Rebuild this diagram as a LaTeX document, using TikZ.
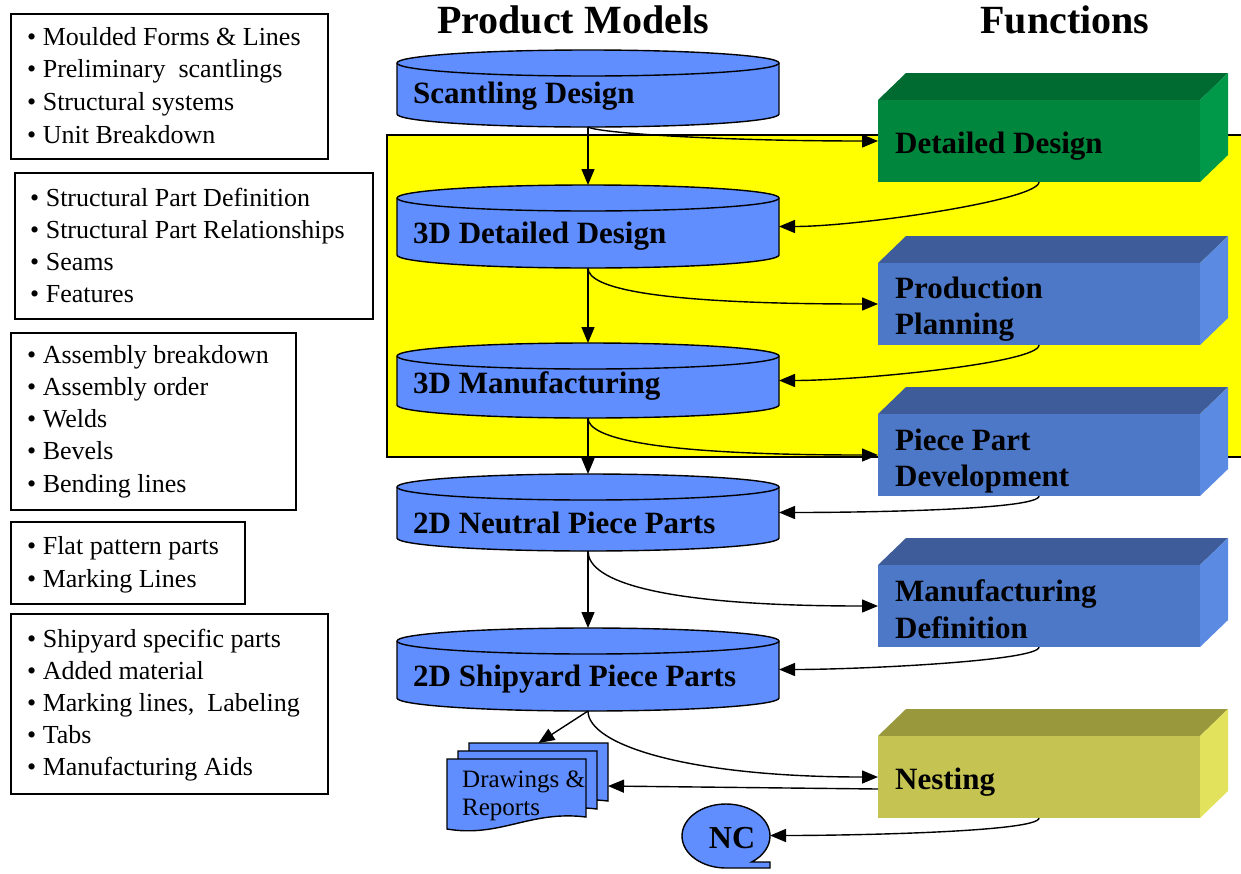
\documentclass[tikz,border=0pt]{standalone}
\usepackage{fontspec}
\setmainfont{Liberation Serif}
\usetikzlibrary{arrows.meta,calc}
\definecolor{cylblue}{RGB}{96,142,255}
\definecolor{ddfront}{RGB}{0,135,61}
\definecolor{ddtop}{RGB}{0,107,48}
\definecolor{ddside}{RGB}{0,153,74}
\definecolor{bbfront}{RGB}{77,120,200}
\definecolor{bbtop}{RGB}{61,92,153}
\definecolor{bbside}{RGB}{91,138,226}
\definecolor{nsfront}{RGB}{197,196,83}
\definecolor{nstop}{RGB}{153,152,61}
\definecolor{nsside}{RGB}{226,226,92}
\definecolor{hiyellow}{RGB}{255,255,0}
\tikzset{
  conn/.style={line width=1.4pt, -{Triangle[length=16pt,width=13pt]}},
  cylshape/.style={fill=cylblue, draw=black, line width=1.4pt},
  cylnode/.style={minimum width=382, inner sep=0, outer sep=0},
  cyllabel/.style={font=\fontsize{31}{36}\selectfont\bfseries, inner sep=0, anchor=base west},
  lbox/.style={draw=black, line width=1.3pt, anchor=north west, inner sep=0, outer sep=0},
  ltext/.style={font=\fontsize{26}{32}\selectfont, inner sep=0, anchor=base west},
  dtext/.style={font=\fontsize{25}{30}\selectfont, inner sep=0, anchor=base west},
  docstyle/.style={fill=cylblue, draw=black, line width=1.4pt},
  titletext/.style={font=\fontsize{40}{48}\selectfont\bfseries, inner sep=0, anchor=base},
  frontface/.style={minimum width=322, minimum height=82, anchor=north west, inner sep=0, outer sep=0},
  hidden/.style={inner sep=0, outer sep=0}
}
\newcommand\mycyl[5]{%
  \draw[cylshape] (397,#2+13) -- (397,#3-13) arc[start angle=180,end angle=0,x radius=191,y radius=13] -- (779,#2+13) arc[start angle=0,end angle=-180,x radius=191,y radius=13] -- cycle;
  \draw[line width=1.4pt] (397,#2+13) arc[start angle=180,end angle=0,x radius=191,y radius=13];
  \node[cylnode, minimum height=#3-#2] (#1) at (588,{(#2+#3)/2}) {};
  \node[cyllabel] (#1-t) at (413,#4) {#5};
}
\newcommand\funcbox[5]{%
  \fill[#4] (878,#2) -- (906,#2-27) -- (1228,#2-27) -- (1200,#2) -- cycle;
  \fill[#5] (1200,#2) -- (1228,#2-27) -- (1228,#2+55) -- (1200,#2+82) -- cycle;
  \node[frontface, fill=#3] (#1) at (878,#2) {};
}
\newcommand\docpage[2]{%
  \filldraw[docstyle] (#1,#2) -- (#1+139,#2) -- (#1+139,#2+58) .. controls (#1+83,#2+51) and (#1+53,#2+79) .. (#1,#2+70) -- cycle;
}
\begin{document}
\begin{tikzpicture}[x=1pt,y=-1pt]
\useasboundingbox (0,0) rectangle (1241,873);
% highlight area (runs past the right edge)
\begin{scope}
\clip (0,0) rectangle (1241,873);
\filldraw[fill=hiyellow, draw=black, line width=1.3pt] (387,135) rectangle (1250,457);
\end{scope}
% product model cylinders
\mycyl{c1}{50}{127}{103}{Scantling Design}
\mycyl{c2}{185}{268}{243}{3D Detailed Design}
\mycyl{c3}{343}{418}{393}{3D Manufacturing}
\mycyl{c4}{474}{551}{533}{2D Neutral Piece Parts}
\mycyl{c5}{628}{711}{686}{2D Shipyard Piece Parts}
% function boxes
\funcbox{dd}{100}{ddfront}{ddtop}{ddside}
\funcbox{pp}{263}{bbfront}{bbtop}{bbside}
\funcbox{ppd}{414}{bbfront}{bbtop}{bbside}
\funcbox{md}{565}{bbfront}{bbtop}{bbside}
\funcbox{ns}{736}{nsfront}{nstop}{nsside}
\node[cyllabel] (dd-t) at (895,153) {Detailed Design};
\node[cyllabel] (pp-t1) at (895,298) {Production};
\node[cyllabel] (pp-t2) at (895,334) {Planning};
\node[cyllabel] (ppd-t1) at (895,450) {Piece Part};
\node[cyllabel] (ppd-t2) at (895,486) {Development};
\node[cyllabel] (md-t1) at (895,601) {Manufacturing};
\node[cyllabel] (md-t2) at (895,638) {Definition};
\node[cyllabel] (ns-t) at (895,789) {Nesting};
% drawings & reports stack
\docpage{469}{743}
\docpage{458}{751}
\docpage{447}{759}
\node[hidden, minimum width=139, minimum height=60, anchor=north west] (drb) at (469,743) {};
\node[hidden, minimum width=161, minimum height=86, anchor=north west] (dr) at (447,743) {};
\node[dtext] (dr-t1) at (462,787) {Drawings \&};
\node[dtext] (dr-t2) at (462,815) {Reports};
% NC
\filldraw[docstyle] (726,868) arc[start angle=90,end angle=414.3,x radius=44,y radius=32] -- (770,862) -- (770,868) -- cycle;
\node[hidden, minimum width=88, minimum height=65] (nc) at (726,835.5) {};
\node[font=\fontsize{32}{38}\selectfont\bfseries, inner sep=0, anchor=base] (nc-t) at (732,848) {NC};
% vertical flow
\draw[conn] (c1.south) -- (c2.north);
\draw[conn] (c2.south) -- (c3.north);
\draw[conn] (c3.south) -- (c4.north);
\draw[conn] (c4.south) -- (c5.north);
\draw[conn] (c5.south) -- (drb.north);
% model -> function
\draw[conn] (c1.south) .. controls +(10,6) and +(-160,0) .. (dd.west);
\draw[conn] (c2.south) .. controls +(0,20) and +(-225,0) .. (pp.west);
\draw[conn] (c3.south) .. controls +(0,20) and +(-225,0) .. (ppd.west);
\draw[conn] (c4.south) .. controls +(0,30) and +(-220,0) .. (md.west);
\draw[conn] (c5.south) .. controls +(0,34) and +(-190,0) .. (ns.west);
% function -> model
\draw[conn] (dd.south) .. controls +(0,18) and +(80,0) .. (c2.east);
\draw[conn] (pp.south) .. controls +(0,18) and +(80,0) .. (c3.east);
\draw[conn] (ppd.south) .. controls +(0,14) and +(80,0) .. (c4.east);
\draw[conn] (md.south) .. controls +(0,14) and +(80,0) .. (c5.east);
\draw[conn] (ns.south) .. controls +(0,14) and +(80,0) .. (nc.east);
\draw[conn] ($(ns.west)+(0,12)$) -- (dr.east);
% left description boxes
\node[lbox, minimum width=317, minimum height=145] (L1) at (11,14) {};
\node[lbox, minimum width=358, minimum height=146] (L2) at (15,173) {};
\node[lbox, minimum width=285, minimum height=177] (L3) at (11,333) {};
\node[lbox, minimum width=234, minimum height=82] (L4) at (11,522) {};
\node[lbox, minimum width=317, minimum height=180] (L5) at (11,614) {};
\foreach \t [count=\i] in {Moulded Forms \& Lines, Preliminary\ \ scantlings, Structural systems, Unit Breakdown}
  \node[ltext] (L1-\i) at (27,{45+32.7*(\i-1)}) {\textbullet\ \t};
\foreach \t [count=\i] in {Structural Part Definition, Structural Part Relationships, Seams, Features}
  \node[ltext] (L2-\i) at (30,{206+32*(\i-1)}) {\textbullet\ \t};
\foreach \t [count=\i] in {Assembly breakdown, Assembly order, Welds, Bevels, Bending lines}
  \node[ltext] (L3-\i) at (27,{363+32.3*(\i-1)}) {\textbullet\ \t};
\foreach \t [count=\i] in {Flat pattern parts, Marking Lines}
  \node[ltext] (L4-\i) at (27,{554+33*(\i-1)}) {\textbullet\ \t};
\foreach \t [count=\i] in {Shipyard specific parts, Added material, {Marking lines,\ \ Labeling}, Tabs, Manufacturing Aids}
  \node[ltext] (L5-\i) at (27,{647+32.2*(\i-1)}) {\textbullet\ \t};
% titles
\node[titletext] (title1) at (573,33) {Product Models};
\node[titletext] (title2) at (1065,33) {Functions};
\end{tikzpicture}
\end{document}
